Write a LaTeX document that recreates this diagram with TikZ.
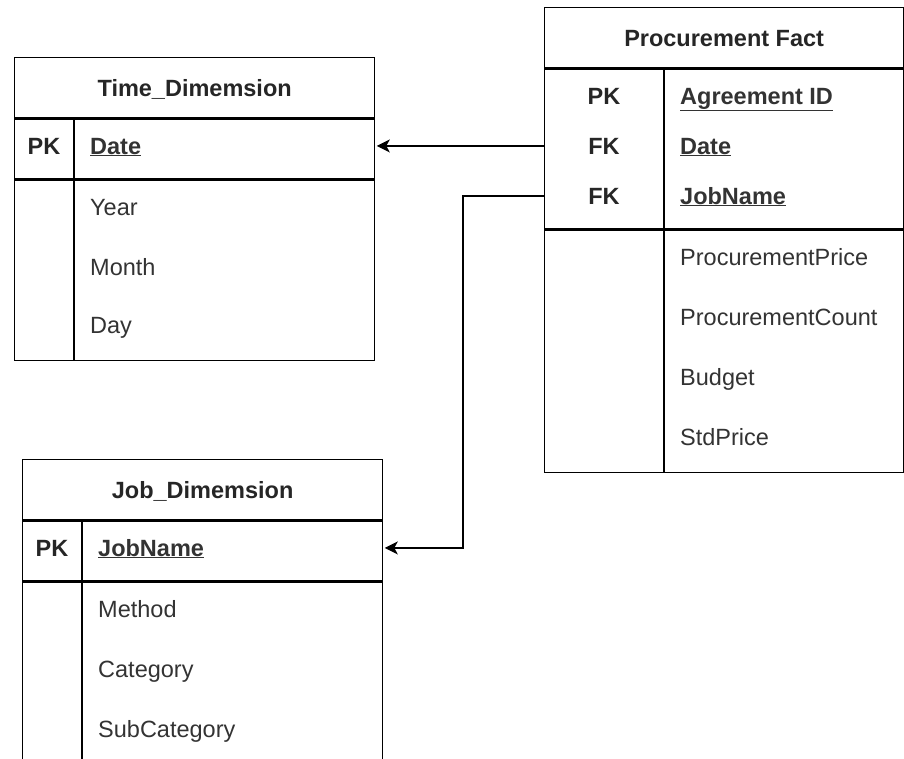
\documentclass[tikz,border=0pt]{standalone}
\usepackage{fontspec}
\setmainfont{Liberation Sans}
\usetikzlibrary{arrows.meta}
\tikzstyle{tablebox} = [draw=black, line width=1.3pt,
    rectangle, anchor=north west, inner sep=0pt]
\tikzstyle{tabletitle} = [font=\fontsize{23.5}{28}\selectfont\bfseries, text height=17pt, text depth=0pt, text=black!85]
\tikzstyle{keytext} = [font=\fontsize{23.5}{28}\selectfont\bfseries, anchor=base, inner sep=0pt, text=black!85]
\tikzstyle{fieldtext} = [font=\fontsize{23.5}{28}\selectfont, anchor=base west, inner sep=0pt, text=black!80]
\tikzstyle{keyfield} = [fieldtext, font=\fontsize{23.5}{28}\selectfont\bfseries]
\tikzstyle{link} = [line width=1.3pt, shorten >=1.5pt, -{Stealth[length=13pt,width=13pt,inset=3.5pt]}]

\begin{document}
\begin{tikzpicture}[x=1pt,y=-1pt]
\useasboundingbox (0,0) rectangle (904,758);
\clip (0,0) rectangle (904,758);
\def\rowshift{8}

% Time_Dimemsion
\node[tablebox, tabletitle, minimum width=360pt, minimum height=60pt] (t-head) at (14,57) {Time\_Dimemsion};
\node[tablebox, minimum width=360pt, minimum height=60pt] (t-keys) at (t-head.south west) {};
\node[tablebox, minimum width=360pt, minimum height=180pt] (t-attr) at (t-keys.south west) {};
\draw[line width=1.3pt] ([xshift=60pt]t-keys.north west) -- ([xshift=60pt]t-attr.south west);
\node[keytext] (t-pk) at (44,146+\rowshift) {PK};
\node[keyfield] (t-date) at (90,146+\rowshift) {\underline{Date}};
\foreach \y/\name in {207/Year,267/Month,325/Day}
    \node[fieldtext] (t-\name) at (90,\y+\rowshift) {\name};

% Procurement Fact
\node[tablebox, tabletitle, minimum width=359pt, minimum height=60pt] (pf-head) at (544,7) {Procurement Fact};
\node[tablebox, minimum width=359pt, minimum height=160pt] (pf-keys) at (pf-head.south west) {};
\node[tablebox, minimum width=359pt, minimum height=242pt] (pf-attr) at (pf-keys.south west) {};
\draw[line width=1.3pt] ([xshift=120pt]pf-keys.north west) -- ([xshift=120pt]pf-attr.south west);
\node[keytext] (pf-pk) at (604,96+\rowshift) {PK};
\node[keytext] (pf-fk1) at (604,146+\rowshift) {FK};
\node[keytext] (pf-fk2) at (604,196+\rowshift) {FK};
\node[keyfield] (pf-id) at (680,96+\rowshift) {\underline{Agreement ID}};
\node[keyfield] (pf-date) at (680,146+\rowshift) {\underline{Date}};
\node[keyfield] (pf-job) at (680,196+\rowshift) {\underline{JobName}};
\foreach \y/\name in {257/ProcurementPrice,317/ProcurementCount,377/Budget,437/StdPrice}
    \node[fieldtext] (pf-\name) at (680,\y+\rowshift) {\name};

% Job_Dimemsion
\node[tablebox, tabletitle, minimum width=360pt, minimum height=60pt] (j-head) at (22,459) {Job\_Dimemsion};
\node[tablebox, minimum width=360pt, minimum height=60pt] (j-keys) at (j-head.south west) {};
\node[tablebox, minimum width=360pt, minimum height=240pt] (j-attr) at (j-keys.south west) {};
\draw[line width=1.3pt] ([xshift=60pt]j-keys.north west) -- ([xshift=60pt]j-attr.south west);
\node[keytext] (j-pk) at (52,548+\rowshift) {PK};
\node[keyfield] (j-job) at (98,548+\rowshift) {\underline{JobName}};
\foreach \y/\name in {609/Method,669/Category,729/SubCategory}
    \node[fieldtext] (j-\name) at (98,\y+\rowshift) {\name};

% links
\draw[link] (pf-keys.west |- pf-fk1) -- (pf-fk1 -| t-keys.east);
\draw[link] (pf-keys.west |- pf-fk2) -- ++(-81,0) |- (j-keys.east |- j-pk);

\end{tikzpicture}
\end{document}
